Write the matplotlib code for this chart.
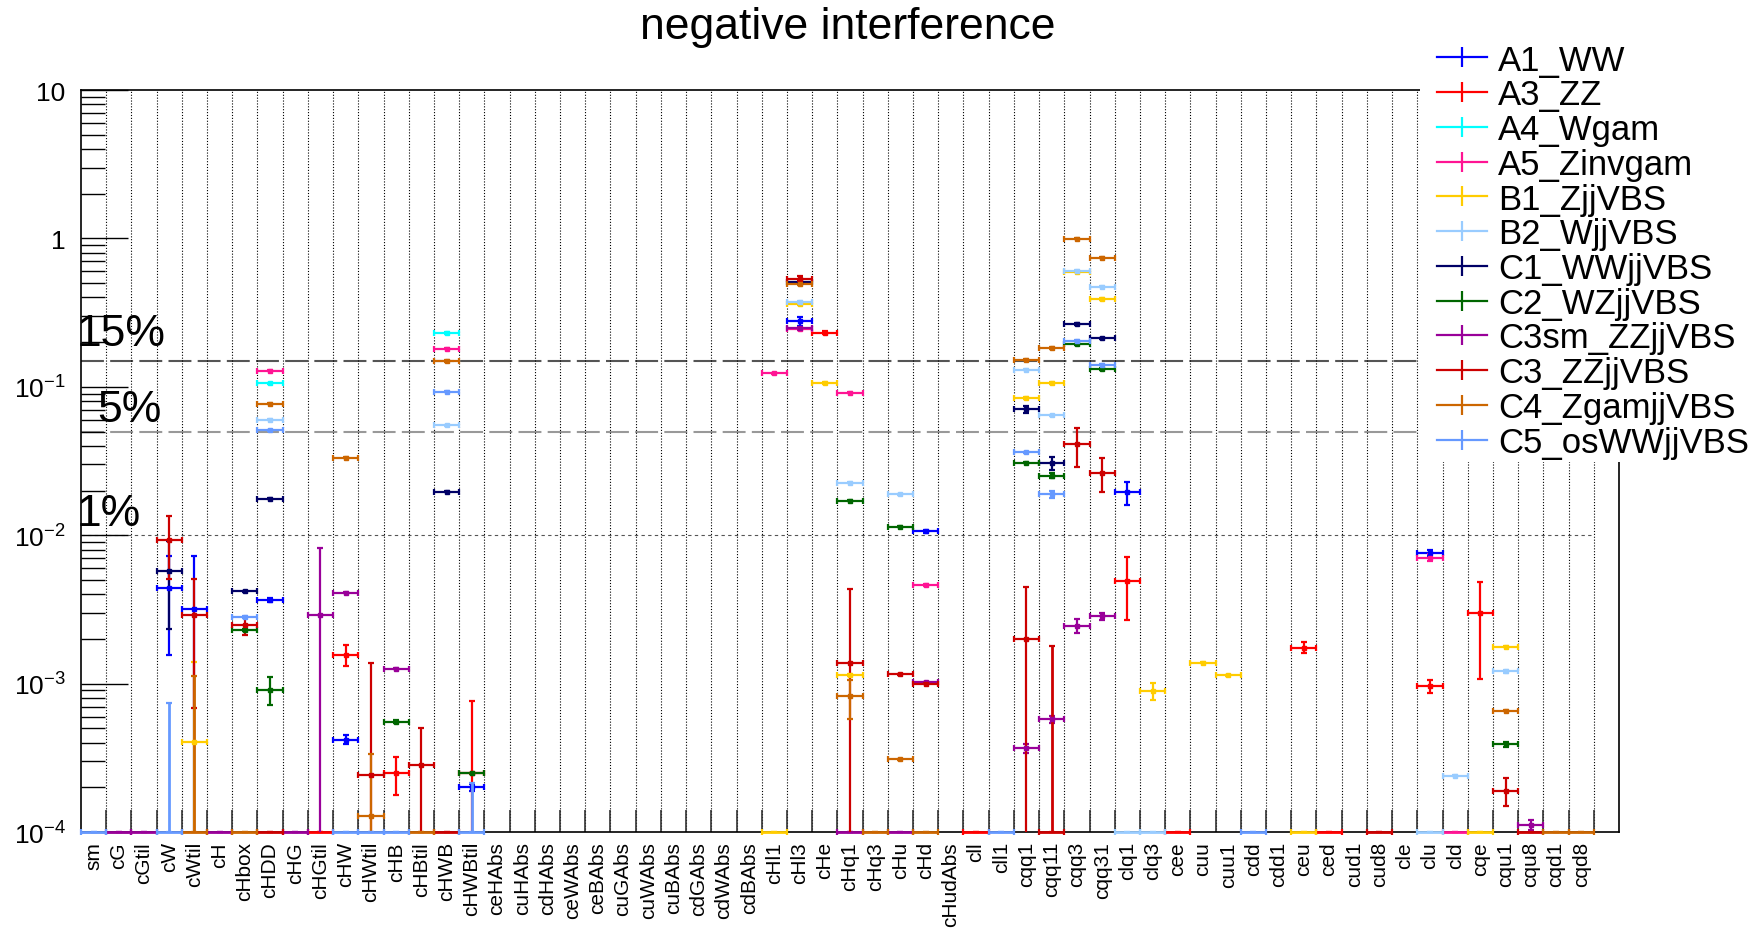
import numpy as np
import matplotlib
matplotlib.use("Agg")
import matplotlib.pyplot as plt
from matplotlib.lines import Line2D
from matplotlib.patches import Rectangle
from matplotlib.ticker import LogLocator, NullFormatter

plt.rcParams['font.family'] = ['Liberation Sans', 'DejaVu Sans']
plt.rcParams['mathtext.fontset'] = 'custom'
plt.rcParams['mathtext.rm'] = 'Liberation Sans'
plt.rcParams['mathtext.it'] = 'Liberation Sans:italic'
plt.rcParams['mathtext.bf'] = 'Liberation Sans:bold'

# x categories (one bin each, plus an empty bin at the right end)
coeffs = ["sm", "cG", "cGtil", "cW", "cWtil", "cH", "cHbox", "cHDD", "cHG", "cHGtil",
          "cHW", "cHWtil", "cHB", "cHBtil", "cHWB", "cHWBtil", "ceHAbs", "cuHAbs", "cdHAbs",
          "ceWAbs", "ceBAbs", "cuGAbs", "cuWAbs", "cuBAbs", "cdGAbs", "cdWAbs", "cdBAbs",
          "cHl1", "cHl3", "cHe", "cHq1", "cHq3", "cHu", "cHd", "cHudAbs", "cll", "cll1",
          "cqq1", "cqq11", "cqq3", "cqq31", "clq1", "clq3", "cee", "cuu", "cuu1", "cdd",
          "cdd1", "ceu", "ced", "cud1", "cud8", "cle", "clu", "cld", "cqe", "cqu1", "cqu8",
          "cqd1", "cqd8"]
n_bins = len(coeffs) + 1

ytick_vals = [1e-4, 1e-3, 1e-2, 1e-1, 1, 10]
ytick_labels = [r"$10^{-4}$", r"$10^{-3}$", r"$10^{-2}$", r"$10^{-1}$", "1", "10"]

# reference levels
levels = [0.15, 0.05, 0.01]
level_labels = ["15%", "5%", "1%"]

series_names = ["A1_WW", "A3_ZZ", "A4_Wgam", "A5_Zinvgam", "B1_ZjjVBS", "B2_WjjVBS",
                "C1_WWjjVBS", "C2_WZjjVBS", "C3sm_ZZjjVBS", "C3_ZZjjVBS",
                "C4_ZgamjjVBS", "C5_osWWjjVBS"]
series_colors = ["#0000ff", "#ff0000", "#00ffff", "#ff1493", "#ffcc00", "#99ccff",
                 "#000066", "#006600", "#990099", "#cc0000", "#cc6600", "#6699ff"]

# (coefficient, value, error); 1e-4 = at / below the bottom of the range
a1_ww = [("cW", 4.4e-3, 2.85e-3), ("cWtil", 3.16e-3, 4.1e-3), ("cHDD", 3.66e-3, 1.2e-4),
         ("cHW", 4.2e-4, 3e-5), ("cHWBtil", 2.0e-4, 1e-5), ("cHl3", 0.277, 0.02),
         ("cHd", 0.0106, 2.5e-4), ("clq1", 0.0195, 3.5e-3), ("clu", 7.6e-3, 4e-4)]
a3_zz = [("cHGtil", 1e-4, 0), ("cHW", 1.56e-3, 2.5e-4), ("cHB", 2.48e-4, 7e-5),
         ("cHWBtil", 2.48e-4, 5.1e-4), ("cHe", 0.232, 4e-3), ("cll", 1e-4, 0),
         ("clq1", 4.9e-3, 2.2e-3), ("cee", 1e-4, 0), ("ceu", 1.75e-3, 1.5e-4),
         ("ced", 1e-4, 0), ("clu", 9.6e-4, 1e-4), ("cqe", 2.97e-3, 1.9e-3)]
a4_wgam = [("cHDD", 0.1057, 1e-3), ("cHWB", 0.2306, 2e-3)]
a5_zinvgam = [("cHDD", 0.128, 1e-3), ("cHWB", 0.181, 2e-3), ("cHl1", 0.1233, 1e-3),
              ("cHl3", 0.245, 3e-3), ("cHq1", 0.0914, 1e-3), ("cHd", 4.63e-3, 5e-5),
              ("clu", 7.06e-3, 4e-4), ("cld", 1e-4, 0)]
b1_zjj = [("cWtil", 4.05e-4, 1.0e-3), ("cHl1", 1e-4, 0), ("cHl3", 0.36, 4e-3),
          ("cHe", 0.106, 1e-3), ("cHq1", 1.14e-3, 2e-5), ("cqq1", 0.0844, 1e-3),
          ("cqq11", 0.1062, 1e-3), ("cqq3", 0.598, 5e-3), ("cqq31", 0.391, 4e-3),
          ("clq3", 8.95e-4, 1.2e-4), ("cuu", 1.387e-3, 1e-5), ("cuu1", 1.14e-3, 1e-5),
          ("ceu", 1e-4, 0), ("cqe", 1e-4, 0), ("cqu1", 1.772e-3, 2e-5)]
b2_wjj = [("cHDD", 0.060, 5e-4), ("cHWB", 0.0551, 5e-4), ("cHl3", 0.372, 4e-3),
          ("cHq1", 0.02261, 2e-4), ("cHu", 0.01884, 2e-4), ("cqq1", 0.1307, 1e-3),
          ("cqq11", 0.0643, 6e-4), ("cqq3", 0.606, 5e-3), ("cqq31", 0.4727, 4e-3),
          ("clq1", 1e-4, 0), ("clq3", 1e-4, 0), ("clu", 1e-4, 0), ("cld", 2.40e-4, 3e-6),
          ("cqu1", 1.215e-3, 3e-5)]
c1_wwjj = [("cW", 5.74e-3, 3.4e-3), ("cHbox", 4.19e-3, 5e-5), ("cHDD", 0.01764, 2e-4),
           ("cHWB", 0.01968, 2e-4), ("cHl3", 0.51, 5e-3), ("cqq1", 0.0708, 4e-3),
           ("cqq11", 0.0305, 3e-3), ("cqq3", 0.2645, 3e-3), ("cqq31", 0.2119, 2e-3)]
c2_wzjj = [("cHbox", 2.3e-3, 3e-5), ("cHDD", 9.1e-4, 1.9e-4), ("cHB", 5.55e-4, 1e-5),
           ("cHWBtil", 2.48e-4, 3e-6), ("cHq1", 0.01708, 2e-4), ("cHu", 0.0114, 1e-4),
           ("cqq1", 0.0309, 3e-4), ("cqq11", 0.02526, 1e-3), ("cqq3", 0.1934, 2e-3),
           ("cqq31", 0.1316, 1.5e-3), ("cqu1", 3.89e-4, 1.5e-5)]
c3sm_zzjj = [("cG", 1e-4, 0), ("cGtil", 1e-4, 0), ("cH", 1e-4, 0), ("cHG", 1e-4, 0),
             ("cHGtil", 2.88e-3, 5.3e-3), ("cHW", 4.1e-3, 5e-5), ("cHB", 1.26e-3, 1e-5),
             ("cHl3", 0.2478, 6e-3), ("cHq1", 1e-4, 0), ("cHu", 1e-4, 0),
             ("cHd", 1.02e-3, 1e-5), ("cqq1", 3.68e-4, 2.5e-5), ("cqq11", 5.74e-4, 3e-5),
             ("cqq3", 2.46e-3, 2.7e-4), ("cqq31", 2.84e-3, 1.5e-4), ("cqu8", 1.12e-4, 8e-6)]
c3_zzjj = [("cW", 9.3e-3, 4.2e-3), ("cWtil", 2.88e-3, 2.2e-3), ("cHbox", 2.48e-3, 3.5e-4),
           ("cHDD", 1e-4, 0), ("cHWtil", 2.44e-4, 1.14e-3), ("cHBtil", 2.82e-4, 2.2e-4),
           ("cHWB", 1e-4, 0), ("cHl3", 0.535, 0.02), ("cHq1", 1.387e-3, 2.95e-3),
           ("cHu", 1.16e-3, 1e-5), ("cHd", 1.0e-3, 1e-5), ("cqq1", 2.0e-3, 2.5e-3),
           ("cqq11", 1e-4, 1.7e-3), ("cqq3", 0.0409, 0.012), ("cqq31", 0.02626, 0.0068),
           ("cud8", 1e-4, 0), ("cqu1", 1.9e-4, 4e-5), ("cqu8", 1e-4, 0)]
c4_zgamjj = [("cWtil", 1e-4, 1.03e-3), ("cHbox", 1e-4, 0), ("cHDD", 0.077, 7e-4),
             ("cHW", 0.0332, 3e-4), ("cHWtil", 1.28e-4, 2.1e-4), ("cHBtil", 1e-4, 0),
             ("cHWB", 0.149, 1.5e-3), ("cHl3", 0.492, 5e-3), ("cHq1", 8.2e-4, 2.4e-4),
             ("cHq3", 1e-4, 0), ("cHu", 3.09e-4, 3e-6), ("cHd", 1e-4, 0),
             ("cqq1", 0.152, 1.5e-3), ("cqq11", 0.1824, 2e-3), ("cqq3", 0.994, 1e-2),
             ("cqq31", 0.7417, 7e-3), ("cqu1", 6.56e-4, 7e-6), ("cqd1", 1e-4, 0),
             ("cqd8", 1e-4, 0)]
c5_osww = [("sm", 1e-4, 0), ("cW", 1e-4, 6.4e-4), ("cHbox", 2.82e-3, 3e-5),
           ("cHDD", 0.0509, 5e-4), ("cHW", 1e-4, 0), ("cHWtil", 1e-4, 0), ("cHB", 1e-4, 0),
           ("cHWB", 0.0929, 9e-4), ("cHWBtil", 1e-4, 1.15e-4), ("cll1", 1e-4, 0),
           ("cqq1", 0.0362, 4e-4), ("cqq11", 0.01884, 1e-3), ("cqq3", 0.205, 2e-3),
           ("cqq31", 0.1414, 1.5e-3), ("cdd", 1e-4, 0)]

all_series = [a1_ww, a3_zz, a4_wgam, a5_zinvgam, b1_zjj, b2_wjj,
              c1_wwjj, c2_wzjj, c3sm_zzjj, c3_zzjj, c4_zgamjj, c5_osww]

fig = plt.figure(figsize=(17.56, 9.29), dpi=100)
ax = fig.add_axes([0.0461, 0.1033, 0.8759, 0.7987])
ax.set_yscale('log')
ax.set_ylim(1e-4, 10)
ax.set_xlim(0, n_bins)
ymin = ax.get_ylim()[0]

# bin edges: ticks + dotted grid ; bin centres: labels
ax.set_xticks(np.arange(1, n_bins))
ax.set_xticks(np.arange(len(coeffs)) + 0.5, minor=True)
ax.set_xticklabels(coeffs, minor=True)
ax.tick_params(axis='x', which='major', direction='in', length=16, width=1.2,
               labelbottom=False, color='#333333')
ax.tick_params(axis='x', which='minor', length=0, labelsize=15, pad=6.5,
               labelrotation=90)
ax.grid(axis='x', which='major', color='black', linestyle=(0, (1, 1.6)), linewidth=0.8)

ax.set_yticks(ytick_vals, ytick_labels)
ax.yaxis.set_minor_locator(LogLocator(base=10, subs=range(2, 10)))
ax.yaxis.set_minor_formatter(NullFormatter())
ax.tick_params(axis='y', which='major', direction='in', length=34, width=1.0,
               labelsize=19, pad=11)
ax.tick_params(axis='y', which='minor', direction='in', length=17, width=1.0)
for s in ax.spines.values():
    s.set_linewidth(1.2)

# reference lines
ax.plot([0, len(coeffs)], [levels[0]] * 2, color='#555555', lw=1.5,
        ls=(0, (11, 3)), zorder=1.5)
ax.plot([0, len(coeffs)], [levels[1]] * 2, color='#999999', lw=1.5,
        ls=(0, (11, 3)), zorder=1.5)
ax.plot([0, len(coeffs)], [levels[2]] * 2, color='#555555', lw=0.8,
        ls=(0, (3, 3)), zorder=1.5)
ax.text(-0.16, 0.19, level_labels[0], fontsize=32, va='baseline')
ax.text(0.63, 0.0586, level_labels[1], fontsize=32, va='baseline')
ax.text(-0.16, 0.0118, level_labels[2], fontsize=32, va='baseline')

for k, (ser, col) in enumerate(zip(all_series, series_colors)):
    x = np.array([coeffs.index(c) + 0.5 for c, v, e in ser])
    v = np.array([v for c, v, e in ser])
    e = np.array([e for c, v, e in ser])
    floor = v <= ymin
    # points inside the range: clipped to the frame
    m = ~floor
    if m.any():
        lo = v[m] - np.maximum(v[m] - e[m], 1e-7)
        ax.errorbar(x[m], v[m], xerr=0.5, yerr=[lo, e[m]], fmt='s', ms=2.8, color=col,
                    ecolor=col, elinewidth=1.6, capsize=2.5, capthick=1.6,
                    linestyle='none', zorder=3 + k * 0.01)
    # points at / below the bottom: drawn on the bottom edge, not clipped
    if floor.any():
        eb = ax.errorbar(x[floor], v[floor], xerr=0.5,
                         yerr=[np.zeros(floor.sum()), e[floor]], fmt='none',
                         ecolor=col, elinewidth=2.0, capsize=2.5, capthick=1.6,
                         zorder=3 + k * 0.01)
        for art in eb.get_children():
            art.set_clip_on(False)

fig.text(0.483, 0.958, "negative interference", ha='center', va='baseline', fontsize=32)

# white legend box covering the top right of the frame
fig.add_artist(Rectangle((0.8087, 0.5016), 0.2, 0.5, transform=fig.transFigure,
                         facecolor='white', edgecolor='none', zorder=1))
handles = [Line2D([], [], color=c, lw=1.6, marker='|', ms=14, mew=1.6)
           for c in series_colors]
fig.legend(handles, series_names, loc='upper left', bbox_to_anchor=(0.8183, 0.952),
           frameon=False, fontsize=25, handlelength=1.44, handletextpad=0.32,
           labelspacing=0.05, borderpad=0, borderaxespad=0)

fig.savefig('out.png', dpi=100)
